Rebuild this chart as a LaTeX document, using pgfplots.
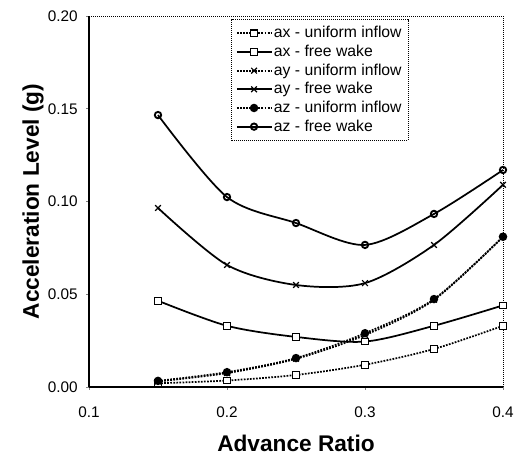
\documentclass[border=0pt]{standalone}
\usepackage{fontspec}
\setmainfont{Liberation Sans}
\usepackage{pgfplots}
\pgfplotsset{compat=1.18}

% values
\begin{document}
\begin{tikzpicture}
\begin{axis}[
  scale only axis, width=310.5pt, height=278.25pt,
  xmin=0.1, xmax=0.4, ymin=0, ymax=0.2,
  xtick={0.1,0.2,0.3,0.4}, ytick={0,0.05,0.1,0.15,0.2},
  xticklabels={0.1,0.2,0.3,0.4},
  yticklabel style={/pgf/number format/fixed, /pgf/number format/fixed zerofill,
    /pgf/number format/precision=2, xshift=-3pt},
  /pgf/number format/assume math mode=true,
  axis lines*=left, axis line style={line width=0.9pt},
  tick align=outside, major tick length=2pt, tick style={line width=0.5pt},
  ticklabel style={font=\fontsize{11.5}{13}\selectfont},
  xticklabel style={yshift=-9pt},
  xlabel={Advance Ratio}, ylabel={Acceleration Level (g)},
  label style={font=\fontsize{17}{19}\selectfont\bfseries},
  xlabel style={at={(axis description cs:0.5,-0.151)}, anchor=center},
  ylabel style={at={(axis description cs:-0.135,0.5)}, anchor=center, rotate=0},
  legend style={name=leg, at={(0.345,0.99)}, anchor=north west, draw=none,
    fill=white, inner xsep=3pt, inner ysep=3pt,
    font=\fontsize{11.8}{13}\selectfont,
    nodes={inner sep=1.5pt, text height=8.8pt, text depth=2.2pt}},
  legend cell align=left,
  legend image code/.code={\draw[mark repeat=2,mark phase=2]
    plot coordinates {(0cm,0cm)(0.45cm,0cm)(0.9cm,0cm)};},
  every axis plot/.append style={smooth, tension=0.5, black},
  clip=false,
]
\addplot[densely dotted, line width=1.3pt, mark=square*, mark size=2.5pt,
  mark options={solid, fill=white, line width=0.8pt}]
  coordinates {(0.15,0.002) (0.2,0.0035) (0.25,0.0065) (0.3,0.012) (0.35,0.0205) (0.4,0.033)};
\addlegendentry{ax - uniform inflow}
\addplot[line width=1.3pt, mark=square*, mark size=2.5pt,
  mark options={solid, fill=white, line width=0.8pt}]
  coordinates {(0.15,0.0465) (0.2,0.033) (0.25,0.027) (0.3,0.0245) (0.35,0.033) (0.4,0.044)};
\addlegendentry{ax - free wake}
\addplot[densely dotted, line width=1.3pt, mark=x, mark size=3pt,
  mark options={solid, line width=0.9pt}]
  coordinates {(0.15,0.003) (0.2,0.0075) (0.25,0.0152) (0.3,0.028) (0.35,0.047) (0.4,0.081)};
\addlegendentry{ay - uniform inflow}
\addplot[line width=1.3pt, mark=x, mark size=3pt,
  mark options={solid, line width=0.9pt}]
  coordinates {(0.15,0.0965) (0.2,0.0658) (0.25,0.055) (0.3,0.056) (0.35,0.0766) (0.4,0.109)};
\addlegendentry{ay - free wake}
\addplot[densely dotted, line width=1.3pt, mark=*, mark size=2.5pt,
  mark options={solid, fill=black}]
  coordinates {(0.15,0.0033) (0.2,0.008) (0.25,0.0156) (0.3,0.029) (0.35,0.0474) (0.4,0.081)};
\addlegendentry{az - uniform inflow}
\addplot[line width=1.3pt, mark=o, mark size=2.4pt,
  mark options={solid, line width=1.4pt}]
  coordinates {(0.15,0.1466) (0.2,0.1024) (0.25,0.0884) (0.3,0.0766) (0.35,0.0933) (0.4,0.117)};
\addlegendentry{az - free wake}
\draw[densely dotted, line width=0.5pt] (rel axis cs:0,1) -- (rel axis cs:1,1) -- (rel axis cs:1,0);
\end{axis}
\draw[densely dotted, line width=0.5pt] (leg.south west) rectangle (leg.north east);
\pgfresetboundingbox
\path (-66.75pt,-52.5pt) rectangle (323.25pt,290.25pt);
\end{tikzpicture}
\end{document}
